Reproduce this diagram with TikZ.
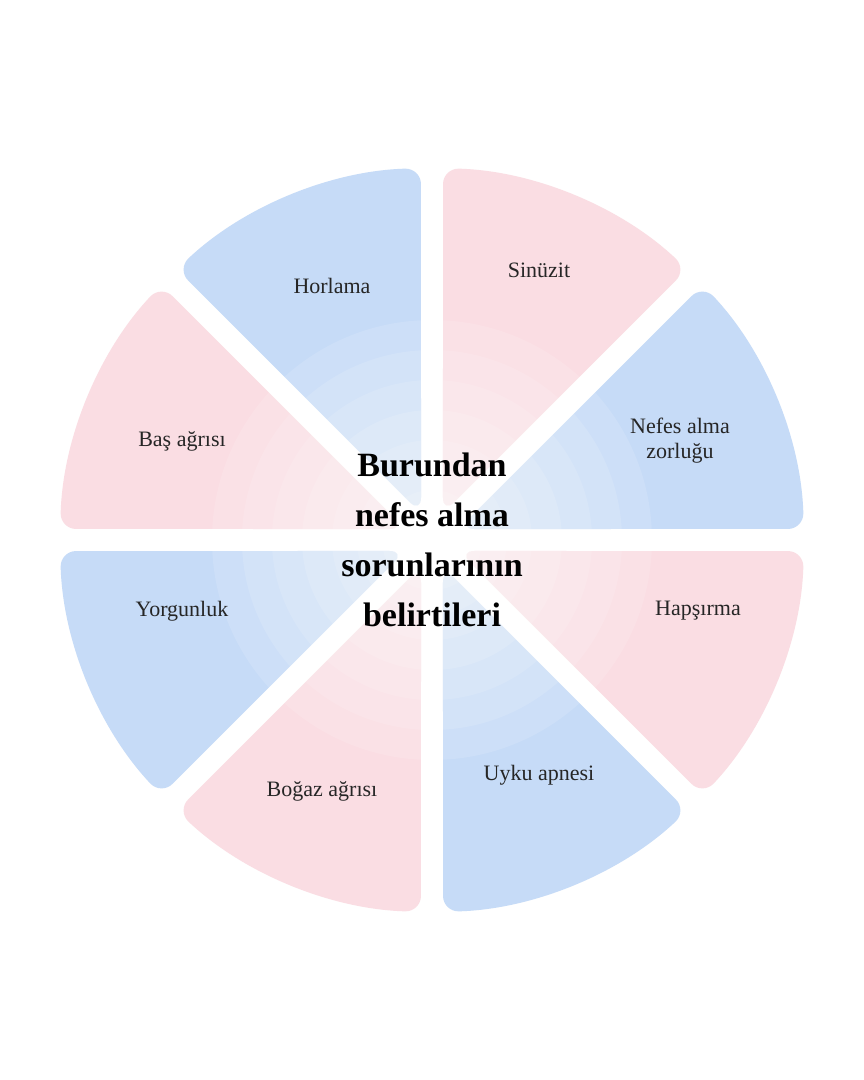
\documentclass[tikz,border=0pt]{standalone}
\usepackage{fontspec}
\setmainfont{Liberation Serif}
\definecolor{sblue}{HTML}{C6DBF7}
\definecolor{spink}{HTML}{FADDE3}
\tikzset{lbl/.style={font=\fontsize{22}{25}\selectfont, align=center, text=black!85}}
\begin{document}
\begin{tikzpicture}[x=1pt,y=1pt]
\useasboundingbox[fill=white] (-432,-540) rectangle (432,540);
\def\R{372}
\foreach \a/\c in {0/sblue,45/spink,90/sblue,135/spink,180/sblue,225/spink,270/sblue,315/spink}{
  \pgfmathsetmacro{\b}{\a+22.5}
  \pgfmathsetmacro{\s}{\a+1.7}
  \pgfmathsetmacro{\e}{\a+45-1.7}
  \fill[\c, rounded corners=16pt] (\b:28.7) -- (\s:\R) arc[start angle=\s, end angle=\e, radius=\R] -- cycle;
}
\foreach \r in {220,190,160,130,100,75,50}{
  \fill[white, opacity=0.13] (0,0) circle[radius=\r];
}
\node[font=\fontsize{34}{50}\selectfont\bfseries, align=center] (title) at (0,0) {Burundan\\nefes alma\\sorunlarının\\belirtileri};
\node[lbl] (horlama) at (-100,254) {Horlama};
\node[lbl] (sinuzit) at (107,270) {Sinüzit};
\node[lbl] (nefes) at (248,99) {Nefes alma\\zorluğu};
\node[lbl] (haps) at (266,-71) {Hapşırma};
\node[lbl] (uyku) at (107,-235) {Uyku apnesi};
\node[lbl] (bogaz) at (-110,-251) {Boğaz ağrısı};
\node[lbl] (yorg) at (-250,-71) {Yorgunluk};
\node[lbl] (bas) at (-250,99) {Baş ağrısı};
\end{tikzpicture}
\end{document}
